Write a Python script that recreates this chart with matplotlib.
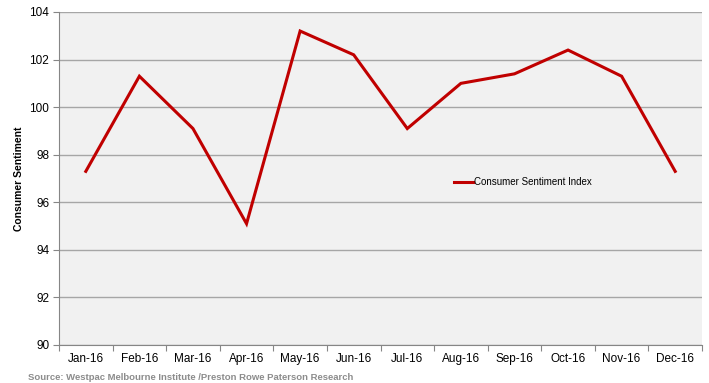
import matplotlib.pyplot as plt
import numpy as np

plt.rcParams['font.family'] = ['Liberation Sans', 'DejaVu Sans']

months = ["Jan-16", "Feb-16", "Mar-16", "Apr-16", "May-16", "Jun-16",
          "Jul-16", "Aug-16", "Sep-16", "Oct-16", "Nov-16", "Dec-16"]
sentiment = [97.3, 101.3, 99.1, 95.1, 103.2, 102.2,
             99.1, 101.0, 101.4, 102.4, 101.3, 97.3]
y_ticks = [90, 92, 94, 96, 98, 100, 102, 104]

fig = plt.figure(figsize=(7.09, 3.83), dpi=100)
ax = fig.add_axes([59 / 709, 1 - 345 / 383, (702 - 59) / 709, (345 - 12) / 383])
ax.set_facecolor("#f1f1f1")

x = np.arange(len(months))
ax.plot(x, sentiment, color="#c00000", lw=2.2, label="Consumer Sentiment Index",
        solid_joinstyle="miter", zorder=3)

ax.set_xlim(-0.5, len(months) - 0.5)
ax.set_ylim(90, 104)
ax.set_yticks(y_ticks)
ax.set_yticklabels([str(v) for v in y_ticks], fontsize=8.5)
ax.yaxis.grid(True, color="#a6a6a6", lw=1)
ax.set_axisbelow(True)

# month labels sit between the boundary ticks
ax.set_xticks(np.arange(-0.5, len(months), 1))
ax.set_xticklabels([])
ax.set_xticks(x, minor=True)
ax.set_xticklabels(months, minor=True, fontsize=8.5)
ax.tick_params(axis="x", which="minor", length=0, pad=6)
ax.tick_params(axis="x", which="major", length=4, color="#868686")
ax.tick_params(axis="y", length=4, color="#868686", pad=3)

for side in ["top", "right"]:
    ax.spines[side].set_visible(False)
for side in ["left", "bottom"]:
    ax.spines[side].set_color("#868686")

ax.set_ylabel("Consumer Sentiment", fontsize=7.5, fontweight="bold", labelpad=4)

ax.legend(loc="center left", bbox_to_anchor=(0.6, 0.488), frameon=False, fontsize=7,
          handlelength=2.0, handletextpad=0.15)

fig.text(28 / 709, 1 - 377 / 383, "Source: Westpac Melbourne Institute /Preston Rowe Paterson Research",
         fontsize=6.8, color="#8c8c8c", fontweight="bold", va="center")

fig.savefig("out.png", dpi=100)
